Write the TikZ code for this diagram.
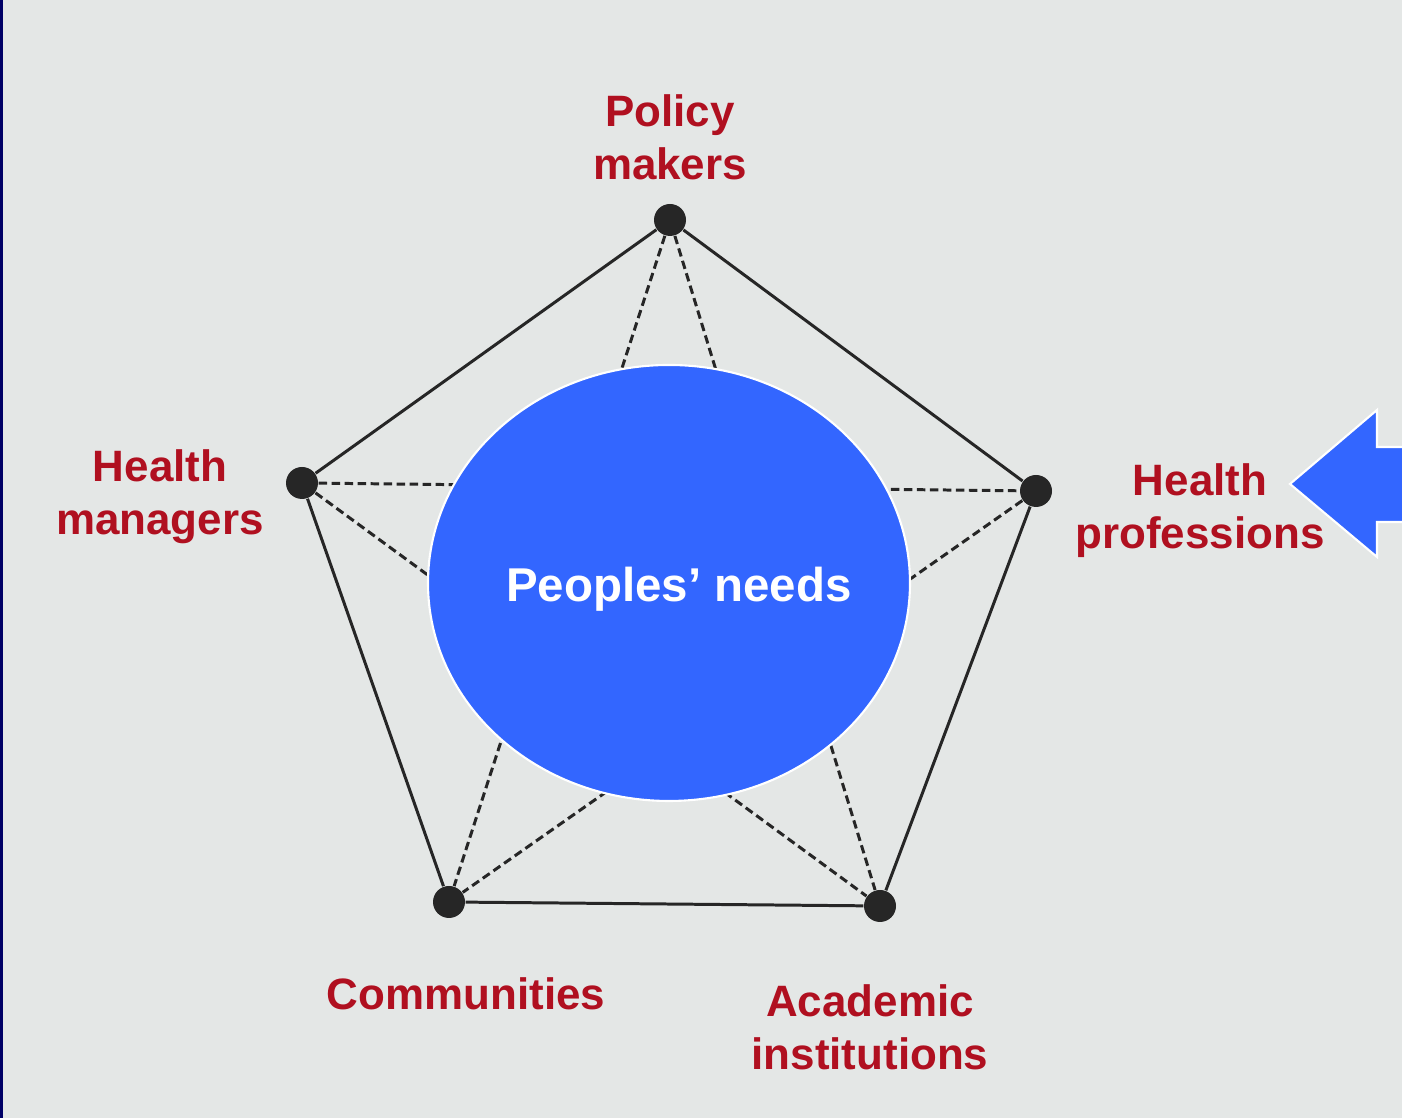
\documentclass[tikz,border=0pt]{standalone}
\usepackage{fontspec}
\setmainfont{Liberation Sans}
\usetikzlibrary{shapes.geometric}
\definecolor{bggrey}{HTML}{E4E7E6}
\definecolor{navyedge}{HTML}{000066}
\definecolor{labelred}{HTML}{B01020}
\definecolor{needblue}{HTML}{3366FF}

\begin{document}
\begin{tikzpicture}[
        vertex/.style={circle, fill=black!85, inner sep=0pt, minimum size=0.32cm},
        side/.style={line width=0.85pt, black!85},
        cross/.style={line width=0.85pt, black!85, dash pattern=on 2.4pt off 1.3pt},
        role/.style={text=labelred, font=\bfseries\fontsize{12.5}{15}\selectfont, align=center}
    ]
        \fill [bggrey] (0,0) rectangle (14.02,11.18);
        \fill [navyedge] (0,0) rectangle (0.03,11.18);
        \useasboundingbox (0,0) rectangle (14.02,11.18);

        \node [vertex] (policy) at (6.70,8.98) {};
        \node [vertex] (managers) at (3.02,6.35) {};
        \node [vertex] (professions) at (10.36,6.27) {};
        \node [vertex] (communities) at (4.49,2.16) {};
        \node [vertex] (academic) at (8.80,2.12) {};

        \draw [side] (policy) -- (professions) -- (academic) -- (communities) -- (managers) -- (policy);
        \draw [cross] (policy) -- (communities);
        \draw [cross] (policy) -- (academic);
        \draw [cross] (managers) -- (professions);
        \draw [cross] (managers) -- (academic);
        \draw [cross] (professions) -- (communities);

        \node [ellipse, fill=needblue, draw=white, line width=0.6pt, inner sep=0pt,
               minimum width=4.82cm, minimum height=4.36cm] (needs) at (6.69,5.35) {};
        \node [text=white, font=\bfseries\fontsize{13.5}{16}\selectfont] (needstext) at (6.79,5.29) {Peoples’ needs};

        \node [role] (policylabel) at (6.70,9.81) {Policy\\makers};
        \node [role] (managerslabel) at (1.60,6.21) {Health\\managers};
        \node [role] (professionslabel) at (12.00,6.07) {Health\\professions};
        \node [role] (communitieslabel) at (4.66,1.24) {Communities};
        \node [role] (academiclabel) at (8.70,0.91) {Academic\\institutions};

        \fill [needblue, draw=white, line width=0.6pt] (12.90,6.34) -- (13.77,7.08) -- (13.77,6.71) -- (14.10,6.71)
            -- (14.10,5.96) -- (13.77,5.96) -- (13.77,5.61) -- cycle;
    \end{tikzpicture}
\end{document}
